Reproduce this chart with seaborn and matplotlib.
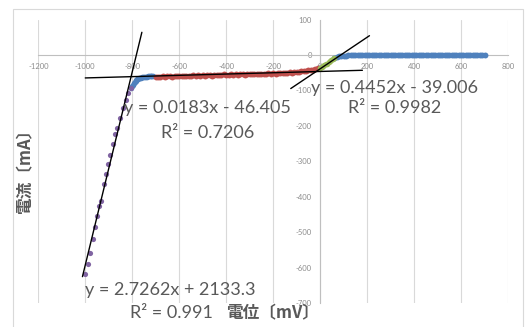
import matplotlib
matplotlib.use("Agg")
import matplotlib.pyplot as plt
import seaborn as sns

# --- data (potential mV, current mA) ---
purple_x = [-1000, -990, -978, -968, -958, -950, -941, -931, -921, -911,
            -902, -893, -883, -872, -863, -850, -838, -828, -816, -806]
purple_y = [-618, -590, -558, -518, -486, -455, -425, -412, -365, -335,
            -308, -282, -250, -222, -206, -178, -150, -127, -108, -92]

blue_knee_x = [-806, -802, -798, -794, -790, -786, -782, -778, -774, -770,
               -766, -762, -758, -754, -750, -746, -742, -738, -734, -730,
               -726, -722, -718, -714, -710]
blue_knee_y = [-92, -88, -84, -80, -77, -74, -71, -69, -67, -66,
               -65, -64, -63, -62, -62, -61, -61, -61, -60, -60,
               -60, -60, -60, -60, -60]

red_x = [-700, -690, -680, -670, -660, -650, -640, -630, -620, -610,
         -600, -590, -580, -570, -560, -550, -540, -530, -520, -510,
         -500, -490, -480, -470, -460, -450, -440, -430, -420, -410,
         -400, -390, -380, -370, -360, -350, -340, -330, -320, -310,
         -300, -290, -280, -270, -260, -250, -240, -230, -220, -210,
         -200, -190, -180, -170, -160, -150, -140, -130, -120, -110,
         -100, -90, -80, -70, -60, -50, -40, -30, -20, -10]
red_y = [-61, -62, -61, -60, -61, -60, -59, -61, -59, -60,
         -59, -58, -60, -58, -59, -58, -57, -59, -57, -58,
         -57, -58, -56, -57, -58, -56, -57, -56, -57, -55,
         -56, -57, -55, -56, -55, -56, -54, -55, -56, -54,
         -55, -54, -55, -53, -54, -55, -53, -54, -52, -53,
         -52, -53, -51, -52, -51, -50, -51, -49, -50, -48,
         -48, -47, -46, -45, -45, -43, -42, -41, -39, -37]

green_x = [0, 6, 12, 18, 24, 30, 36, 42, 48, 54, 60]
green_y = [-36, -34, -31, -29, -26, -24, -21, -18, -15, -12, -9]

blue_x = [-6, 60, 70, 80, 90, 100, 110, 120, 130, 140, 150, 160, 170, 180, 190,
          200, 210, 220, 230, 240, 250, 260, 270, 280, 290,
          300, 310, 320, 330, 340, 350, 360, 370, 380, 390,
          400, 410, 420, 430, 440, 450, 460, 470, 480, 490,
          500, 510, 520, 530, 540, 550, 560, 570, 580, 590,
          600, 610, 620, 630, 640, 650, 660, 670, 680, 690, 700]
blue_y = [-36, -8, -6, -4, -3, -2, -2, -1, -1, -1, -1, -1, 0, -1, -1,
          -1, 0, -1, -1, 0, -1, -1, -1, 0, -1,
          -1, 0, -1, -1, -1, 0, -1, -1, 0, -1,
          -1, -1, 0, -1, -1, 0, -1, -1, -1, 0,
          -1, -1, 0, -1, -1, -1, 0, -1, -1, 0,
          -1, -1, -1, 0, -1, -1, 0, -1, -1, -1, -1]

# trendlines printed on the chart: slope, intercept, x range drawn
trend_slope = [2.7262, 0.0183, 0.4452]
trend_icept = [2133.3, -46.405, -39.006]
trend_xrange = [(-1012, -759), (-1000, 180), (-125, 210)]
trend_eq = ["y = 2.7262x + 2133.3", "y = 0.0183x - 46.405", "y = 0.4452x - 39.006"]
trend_r2 = ["R² = 0.991", "R² = 0.7206", "R² = 0.9982"]

x_ticks = [-1200, -1000, -800, -600, -400, -200, 0, 200, 400, 600, 800]
y_ticks = [100, 0, -100, -200, -300, -400, -500, -600, -700]

sns.set_style("white")
plt.rcParams["font.family"] = ["Lato", "Noto Sans CJK JP", "DejaVu Sans"]
plt.rcParams["axes.unicode_minus"] = False

fig = plt.figure(figsize=(5.26, 3.27), dpi=100)
ax = fig.add_axes([0.0728, 0.0734, 0.893, 0.8667])
ax.set_xlim(-1200, 800)
ax.set_ylim(-700, 100)

# axes cross at zero, like the Excel original
for s in ["top", "right"]:
    ax.spines[s].set_visible(False)
ax.spines["left"].set_position(("data", 0))
ax.spines["bottom"].set_position(("data", 0))
for s in ["left", "bottom"]:
    ax.spines[s].set_color("#bfbfbf")
    ax.spines[s].set_linewidth(0.8)
    ax.spines[s].set_zorder(1)

ax.set_xticks(x_ticks)
ax.set_yticks(y_ticks)
ax.set_xticklabels([str(v) for v in x_ticks])
ax.set_yticklabels([str(v) for v in y_ticks])
ax.tick_params(length=0, labelsize=5.5, labelcolor="#8c8c8c")
ax.tick_params(axis="x", pad=6)
ax.tick_params(axis="y", pad=6)
ax.xaxis.grid(True, color="#d9d9d9", linewidth=0.8)
ax.yaxis.grid(False)
ax.set_axisbelow(True)

pt = dict(linewidth=0, legend=False, ax=ax, zorder=3)
sns.scatterplot(x=blue_x, y=blue_y, color="#4f81bd", s=18, **pt)
sns.scatterplot(x=blue_knee_x, y=blue_knee_y, color="#4f81bd", s=16, **pt)
sns.scatterplot(x=red_x, y=red_y, color="#c0504d", s=18, **pt)
sns.scatterplot(x=green_x, y=green_y, color="#9bbb59", s=16, **pt)
sns.scatterplot(x=purple_x, y=purple_y, color="#8064a2", s=14, **pt)

for m, b, (x0, x1) in zip(trend_slope, trend_icept, trend_xrange):
    sns.lineplot(x=[x0, x1], y=[m * x0 + b, m * x1 + b], color="black",
                 linewidth=1.0, ax=ax, zorder=4)

# trendline labels
txt = dict(fontsize=13, color="#595959", ha="center", va="center", clip_on=False, zorder=5)
eq_pos = [((-640, -663), (-635, -728)), ((-481, -150), (-479, -220)), ((318, -92), (318, -150))]
for eq, r2, (p1, p2) in zip(trend_eq, trend_r2, eq_pos):
    ax.text(p1[0], p1[1], eq, **txt)
    ax.text(p2[0], p2[1], r2, **txt)

# axis titles
lab = dict(fontsize=12, color="#595959", fontweight="bold",
           family=["Noto Sans CJK JP", "DejaVu Sans"])
fig.text(273 / 526, 1 - 313 / 327, "電位〔mV〕", ha="center", va="center", **lab)
fig.text(25 / 526, 1 - 167 / 327, "電流〔mA〕", ha="center", va="center", rotation=90, **lab)

# outer chart border
fig.patches.append(plt.Rectangle((13 / 526, -0.05), 510 / 526, 1.05 - 9 / 327,
                                 transform=fig.transFigure, fill=False,
                                 edgecolor="#d9d9d9", linewidth=0.8))

fig.savefig("out.png", dpi=100)
